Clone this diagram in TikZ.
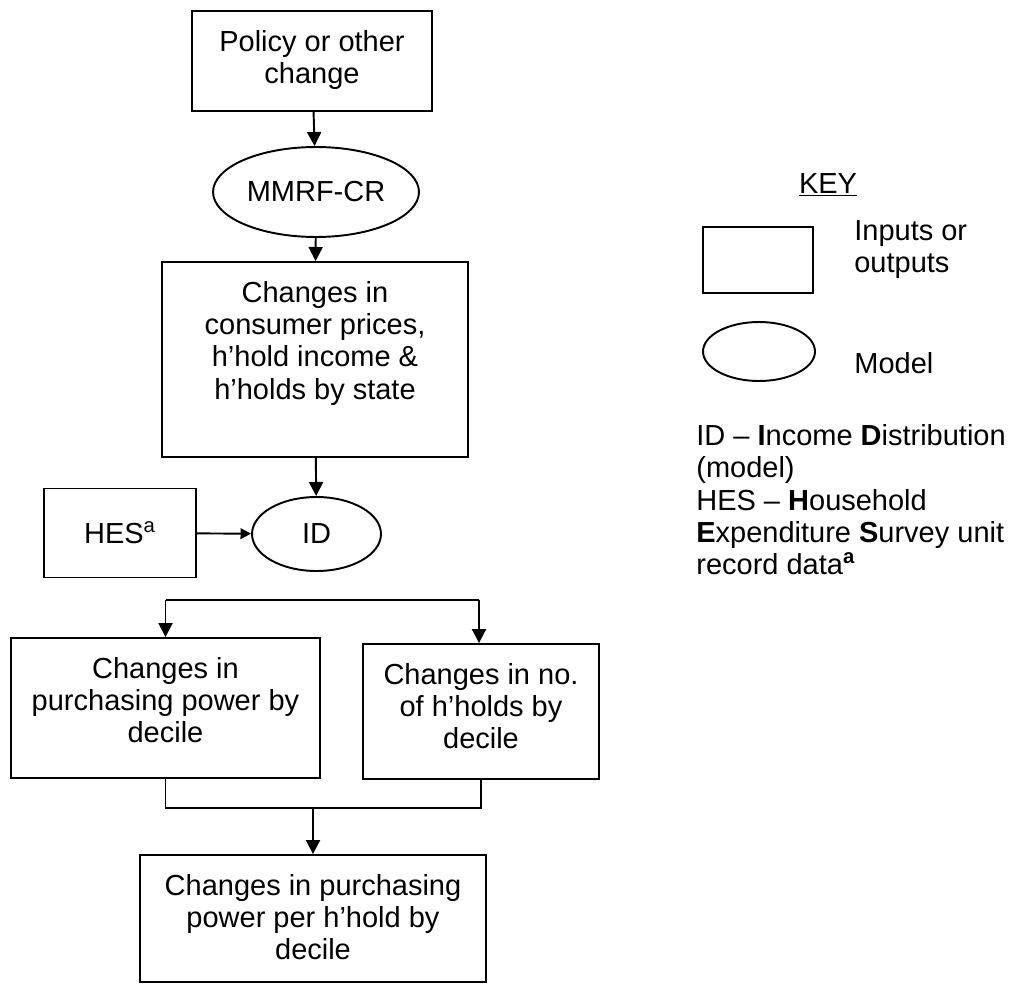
\documentclass[tikz,border=0pt]{standalone}
\usepackage{fontspec}
\setmainfont{Liberation Sans}
\usepackage{tikz}
\usetikzlibrary{arrows.meta,shapes.geometric}

% box text: width, height, lines (top aligned)
\newcommand{\boxtext}[3]{\parbox[c][#2][t]{#1}{\centering\rule{0pt}{0.8cm}#3}}

\begin{document}
\begin{tikzpicture}[x=0.02cm, y=-0.02cm,
    every node/.style={font=\fontsize{16.5pt}{18.4pt}\selectfont}]
    \tikzstyle{io}=[draw, line width=1.1pt, inner sep=0pt]
    \tikzstyle{model}=[draw, ellipse, line width=1.1pt, inner sep=0pt]
    \tikzstyle{arr}=[line width=1.1pt, -{Triangle[width=8pt,length=8pt]}]
    \tikzstyle{smallarr}=[line width=1.1pt, -{Triangle[width=6pt,length=6pt]}]
    \tikzstyle{line}=[line width=1.1pt]

    \useasboundingbox (0,0) rectangle (1016,983);

    % flow
    \node[io] (policy) at (312,61) {\boxtext{4.8cm}{2cm}{Policy or other\\change}};
    \node[model, minimum width=4.12cm, minimum height=1.8cm] (mmrf) at (316,192) {MMRF-CR};
    \node[io] (changes) at (315,359.5) {\boxtext{6.12cm}{3.9cm}{Changes in\\consumer prices,\\h’hold income \&\\h’holds by state}};
    \node[model, minimum width=2.58cm, minimum height=1.48cm] (id) at (316.5,534) {ID};
    \node[io, minimum width=3.04cm, minimum height=1.78cm] (hes) at (120,533) {HES\textsuperscript{a}};
    \node[io] (power) at (165.5,708) {\boxtext{6.18cm}{2.8cm}{Changes in\\purchasing power by\\decile}};
    \node[io] (hholds) at (481,711.5) {\boxtext{4.72cm}{2.7cm}{Changes in no.\\of h’holds by\\decile}};
    \node[io] (final) at (313,918.5) {\boxtext{6.92cm}{2.54cm}{Changes in purchasing\\power per h’hold by\\decile}};

    \coordinate (splitL) at (165.5,600);
    \coordinate (splitR) at (479,600);
    \coordinate (merge) at (313,808);

    \path[arr] (policy) edge (mmrf)
               (mmrf)   edge (changes)
               (changes) edge (id)
               (splitL) edge (power)
               (splitR) edge (splitR |- hholds.north)
               (merge)  edge (final);
    \path[smallarr] (hes) edge (id);
    \draw[line] (splitL) -- (splitR);
    \draw[line] (power.south) |- (merge) -| (hholds.south);

    % key
    \node[inner sep=0pt] (keytitle) at (828,185) {\underline{KEY}};
    \node[io, minimum width=2.2cm, minimum height=1.32cm] (keyio) at (758,260) {};
    \node[model, minimum width=2.24cm, minimum height=1.18cm] (keymodel) at (759,351.5) {};
    \node[anchor=west, align=left, inner sep=0pt] (keyiotext) at (854,249.5) {Inputs or\\outputs};
    \node[anchor=west, inner sep=0pt] (keymodeltext) at (854,363) {Model};
    \node[anchor=north west, align=left, inner sep=0pt] (legend) at (696,424)
        {ID – \textbf{I}ncome \textbf{D}istribution\\(model)\\HES – \textbf{H}ousehold\\\textbf{E}xpenditure \textbf{S}urvey unit\\record data\textsuperscript{\textbf{a}}};
\end{tikzpicture}
\end{document}
